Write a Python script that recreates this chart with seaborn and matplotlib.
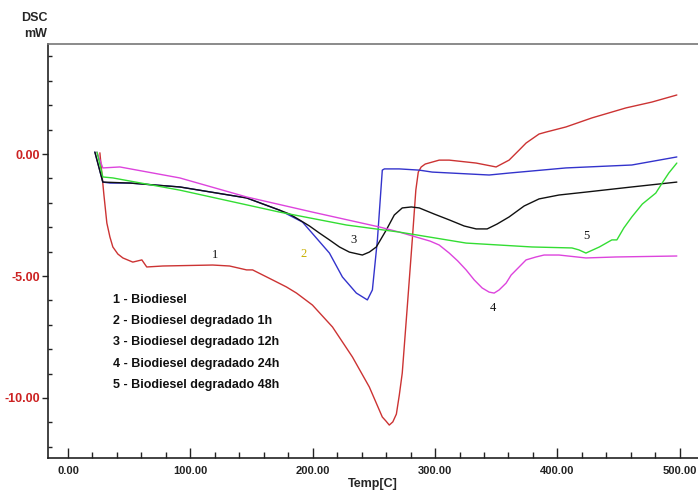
import pandas as pd
import matplotlib
matplotlib.use('Agg')
import matplotlib.pyplot as plt
from matplotlib.ticker import MultipleLocator, FormatStrFormatter
import seaborn as sns

# DSC curves (Temp in C, DSC in mW)
t_bio = [26.1, 27.7, 29.4, 31.8, 34.3, 36.7, 40.8, 44.9, 53.0, 60.4, 64.4, 77.5, 118.3, 132.1,
         146.0, 150.9, 167.2, 178.6, 186.8, 199.8, 216.2, 232.5, 246.3, 256.9, 259.8, 262.6,
         265.5, 268.4, 270.8, 273.2, 277.3, 281.4, 284.3, 286.3, 288.7, 292.0, 303.4, 311.6,
         333.6, 349.9, 360.5, 368.7, 374.4, 385.0, 390.7, 407.0, 428.2, 456.0, 477.2, 497.6]
dsc_bio = [0.05, -0.78, -1.68, -2.83, -3.40, -3.81, -4.10, -4.26, -4.43, -4.34, -4.63, -4.59,
           -4.55, -4.59, -4.75, -4.75, -5.16, -5.45, -5.70, -6.19, -7.09, -8.32, -9.55, -10.78,
           -10.94, -11.11, -10.98, -10.66, -9.88, -8.98, -6.27, -3.52, -1.48, -0.74, -0.53,
           -0.41, -0.25, -0.25, -0.37, -0.53, -0.25, 0.16, 0.45, 0.82, 0.90, 1.11, 1.48, 1.89,
           2.13, 2.42]

t_1h = [22.0, 28.5, 34.3, 50.6, 91.4, 146.0, 172.9, 191.7, 213.7, 224.3, 235.7, 244.7, 248.8,
        252.9, 256.9, 258.6, 270.8, 287.1, 297.7, 344.2, 360.5, 407.0, 460.8, 497.6]
dsc_1h = [0.08, -1.15, -1.19, -1.19, -1.35, -1.80, -2.30, -2.79, -4.06, -5.04, -5.70, -5.98,
          -5.57, -3.52, -0.66, -0.61, -0.61, -0.66, -0.74, -0.86, -0.78, -0.57, -0.45, -0.12]

t_12h = [22.0, 28.5, 50.6, 91.4, 146.0, 172.9, 181.1, 189.2, 197.4, 205.5, 213.7, 221.9, 230.0,
         240.6, 246.3, 252.0, 260.2, 266.7, 273.2, 280.6, 287.1, 299.3, 311.6, 323.8, 333.6,
         342.6, 350.7, 360.5, 372.8, 385.0, 401.3, 423.3, 460.8, 497.6]
dsc_12h = [0.08, -1.15, -1.19, -1.35, -1.80, -2.30, -2.46, -2.70, -2.95, -3.24, -3.52, -3.81,
           -4.02, -4.14, -4.02, -3.81, -3.11, -2.50, -2.21, -2.17, -2.21, -2.46, -2.70, -2.95,
           -3.07, -3.07, -2.87, -2.58, -2.13, -1.84, -1.68, -1.56, -1.35, -1.15]

t_24h = [23.7, 28.5, 42.4, 91.4, 146.0, 199.8, 254.5, 270.8, 287.1, 296.0, 303.4, 311.6, 318.5,
         325.4, 332.0, 338.5, 344.2, 348.3, 352.4, 358.1, 362.2, 368.7, 374.4, 382.5, 389.1,
         401.3, 423.3, 447.8, 497.6]
dsc_24h = [0.08, -0.57, -0.53, -0.98, -1.76, -2.38, -2.99, -3.20, -3.44, -3.57, -3.73, -4.06,
           -4.38, -4.75, -5.16, -5.49, -5.66, -5.70, -5.57, -5.29, -4.96, -4.63, -4.34, -4.22,
           -4.14, -4.14, -4.26, -4.22, -4.18]

t_48h = [23.7, 28.5, 36.7, 91.4, 172.9, 227.6, 270.8, 325.4, 379.3, 411.9, 417.6, 423.3, 434.3,
         444.5, 448.6, 454.3, 460.8, 469.4, 480.4, 485.6, 491.0, 497.6]
dsc_48h = [0.08, -0.94, -0.98, -1.48, -2.38, -2.91, -3.20, -3.65, -3.81, -3.85, -3.93, -4.06,
           -3.81, -3.52, -3.52, -3.03, -2.58, -2.05, -1.60, -1.19, -0.78, -0.37]

names = ['1', '2', '3', '4', '5']
legend_lines = ['1 - Biodiesel', '2 - Biodiesel degradado 1h', '3 - Biodiesel degradado 12h',
                '4 - Biodiesel degradado 24h', '5 - Biodiesel degradado 48h']
# curve number labels (Temp, DSC)
num_t = [119.9, 192.5, 233.3, 347.5, 423.3]
num_dsc = [-4.14, -4.10, -3.52, -6.31, -3.36]

colors = {'1': '#cc3333', '2': '#3333cc', '3': '#111111', '4': '#dd44dd', '5': '#33dd33'}
num_colors = ['#111111', '#c8b000', '#111111', '#111111', '#111111']

# long table for seaborn
frames = []
for n, t, d in zip(names, [t_bio, t_1h, t_12h, t_24h, t_48h],
                   [dsc_bio, dsc_1h, dsc_12h, dsc_24h, dsc_48h]):
    frames.append(pd.DataFrame({'temp': t, 'dsc': d, 'curve': n}))
df = pd.concat(frames, ignore_index=True)

sns.set_style('white')
plt.rcParams['font.family'] = ['Liberation Sans', 'DejaVu Sans']

fig = plt.figure(figsize=(6.98, 4.94), dpi=100)
ax = fig.add_axes([48 / 698, 36 / 494, 1 - 48 / 698, 414 / 494])

sns.lineplot(data=df, x='temp', y='dsc', hue='curve', palette=colors, sort=False,
             estimator=None, linewidth=1.0, legend=False, ax=ax)

ax.set_xlim(-16.3, 514.9)
ax.set_ylim(-12.46, 4.51)

# spines like the instrument software
ax.spines['right'].set_visible(False)
ax.spines['top'].set_color('#777777')
ax.spines['top'].set_linewidth(1.2)
ax.spines['left'].set_color('#222222')
ax.spines['bottom'].set_color('#222222')
ax.spines['left'].set_linewidth(1.2)
ax.spines['bottom'].set_linewidth(1.2)

ax.xaxis.set_major_locator(MultipleLocator(100))
ax.xaxis.set_minor_locator(MultipleLocator(20))
ax.yaxis.set_major_locator(MultipleLocator(5))
ax.yaxis.set_minor_locator(MultipleLocator(1))
ax.xaxis.set_major_formatter(FormatStrFormatter('%.2f'))
ax.yaxis.set_major_formatter(FormatStrFormatter('%.2f'))

ax.tick_params(axis='x', which='major', direction='in', length=7, width=1, colors='#222222',
               labelsize=8, pad=6, bottom=True)
ax.tick_params(axis='x', which='minor', direction='in', length=4, width=1, color='#222222', bottom=True)
ax.tick_params(axis='y', which='major', direction='out', length=4, width=1, color='#222222',
               labelcolor='#cc2222', labelsize=9, pad=2, left=True)
ax.tick_params(axis='y', which='minor', direction='in', length=3, width=1, color='#222222', left=True)
for lab in ax.get_xticklabels() + ax.get_yticklabels():
    lab.set_fontweight('bold')

ax.set_xlabel('Temp[C]', fontsize=9, fontweight='bold', labelpad=1)
ax.set_ylabel('')
fig.text(34 / 698, 1 - 18 / 494, 'DSC', fontsize=9, fontweight='bold', ha='center', va='center')
fig.text(36 / 698, 1 - 34 / 494, 'mW', fontsize=9, fontweight='bold', ha='center', va='center')

# curve numbers
for lab, t, d, c in zip(names, num_t, num_dsc, num_colors):
    ax.text(t, d, lab, fontsize=9, color=c, ha='center', va='center', family='Liberation Serif')

# legend block as plain text
for i, line in enumerate(legend_lines):
    ax.text(36.7, -5.98 - i * 0.87, line, fontsize=9, fontweight='bold',
            ha='left', va='center', color='#111111')

fig.savefig('out.png', dpi=100)
